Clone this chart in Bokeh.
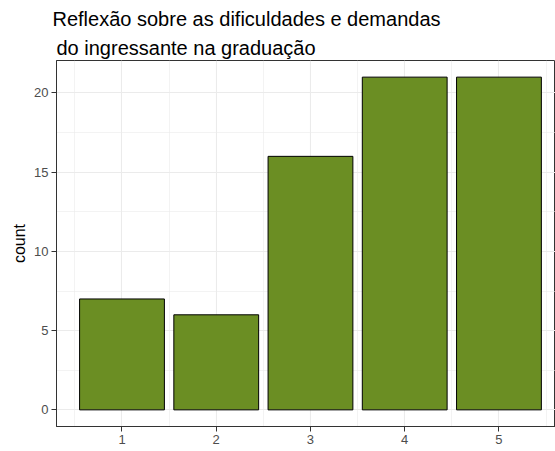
from bokeh.plotting import figure
from bokeh.models import FixedTicker, Range1d, Title, ColumnDataSource
from bokeh.embed import file_html
from bokeh.resources import INLINE

categories = [1, 2, 3, 4, 5]
counts = [7, 6, 16, 21, 21]
y_ticks = [0, 5, 10, 15, 20]
title_line1 = "Reflexão sobre as dificuldades e demandas"
title_line2 = " do ingressante na graduação"

src = ColumnDataSource(dict(x=categories, top=counts))

p = figure(width=555, height=451, output_backend="svg", toolbar_location=None, title=None,
           x_range=Range1d(0.305, 5.60), y_range=Range1d(-1.05, 22.05),
           min_border_left=56, min_border_right=0, min_border_top=60, min_border_bottom=25)

t2 = Title(text=title_line2, text_font="Liberation Sans", text_font_size="20px",
           text_font_style="normal", text_color="black", align="left", offset=0, standoff=3,
           text_line_height=1.0, padding=(0, 0, 4, 0))
t1 = Title(text=title_line1, text_font="Liberation Sans", text_font_size="20px",
           text_font_style="normal", text_color="black", align="left", offset=-4, standoff=0)
p.add_layout(t2, "above")
p.add_layout(t1, "above")

p.vbar(x="x", top="top", bottom=0, width=0.9, source=src,
       fill_color="#6B8E23", line_color="black", line_width=1)

p.xaxis.ticker = FixedTicker(ticks=categories, minor_ticks=[0.5, 1.5, 2.5, 3.5, 4.5, 5.5])
p.yaxis.ticker = FixedTicker(ticks=y_ticks, minor_ticks=[2.5, 7.5, 12.5, 17.5, 22.5])

for ax in (p.xaxis, p.yaxis):
    ax.axis_line_color = "#333333"
    ax.major_tick_line_color = "#333333"
    ax.major_tick_out = 5
    ax.major_tick_in = 0
    ax.minor_tick_line_color = None
    ax.major_label_text_font = "Liberation Sans"
    ax.major_label_text_font_size = "13px"
    ax.major_label_text_color = "#4D4D4D"
    ax.major_label_standoff = 3

p.yaxis.axis_label = "count"
p.yaxis.axis_label_text_font = "Liberation Sans"
p.yaxis.axis_label_text_font_size = "16px"
p.yaxis.axis_label_text_font_style = "normal"
p.yaxis.axis_label_text_color = "black"
p.yaxis.axis_label_standoff = 3

p.outline_line_color = "#333333"
p.outline_line_width = 1

p.xgrid.grid_line_color = "#EBEBEB"
p.ygrid.grid_line_color = "#EBEBEB"
p.xgrid.grid_line_width = 1.1
p.ygrid.grid_line_width = 1.1
p.xgrid.minor_grid_line_color = "#EBEBEB"
p.ygrid.minor_grid_line_color = "#EBEBEB"
p.xgrid.minor_grid_line_width = 0.6
p.ygrid.minor_grid_line_width = 0.6
p.background_fill_color = "white"
p.border_fill_color = "white"

open("out.html", "w").write(file_html(p, INLINE))
